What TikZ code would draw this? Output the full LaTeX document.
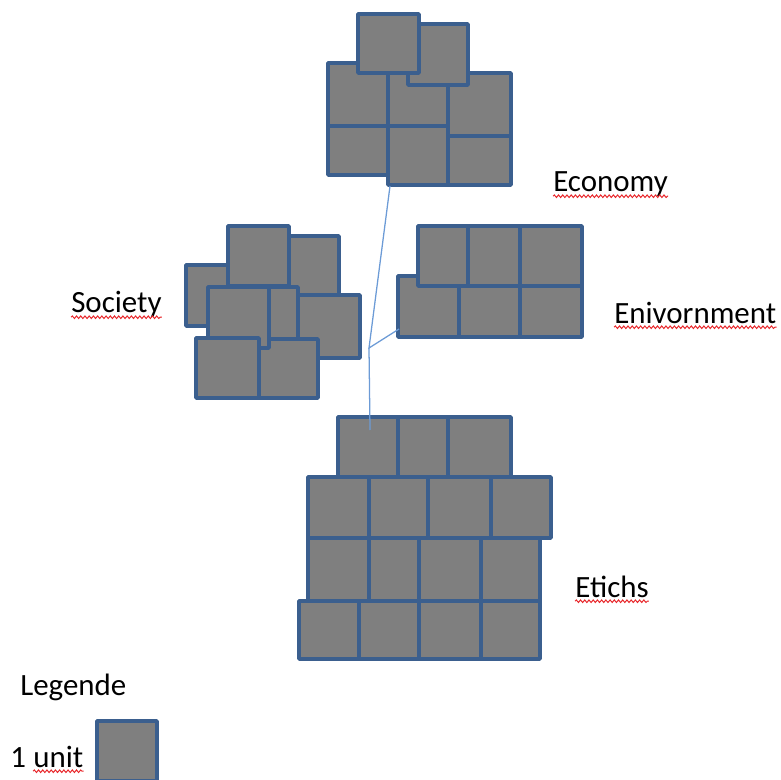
\documentclass[tikz,border=0pt]{standalone}
\usepackage{fontspec}
\setmainfont{Carlito}
\usetikzlibrary{decorations.pathmorphing}
\definecolor{unitgray}{HTML}{7F7F7F}
\definecolor{unitblue}{HTML}{3B5F8E}
\definecolor{linkblue}{HTML}{6C9BD6}
\definecolor{spellred}{HTML}{E8262A}

\begin{document}
\begin{tikzpicture}[x=0.025cm, y=-0.025cm,
  unit/.style={fill=unitgray, draw=unitblue, line width=2.5pt, line join=round},
  link/.style={draw=linkblue, line width=0.9pt},
  lbl/.style={anchor=base west, inner sep=0pt, font=\fontsize{22}{26}\selectfont},
  squiggle/.style={draw=spellred, line width=0.7pt, decorate,
                   decoration={snake, segment length=3pt, amplitude=0.9pt}},
]
  \useasboundingbox (0,0) rectangle (781,780);

  % Economy
  \foreach \xa/\ya/\xb/\yb in {328/126/388/175, 388/126/448/185, 448/136/511/185,
                               328/63/388/126, 388/63/448/126, 448/73/511/136,
                               408/24/468/85, 358/14/419/73}
    \draw[unit] (\xa,\ya) rectangle (\xb,\yb);

  % Society
  \foreach \xa/\ya/\xb/\yb in {186/265/246/326, 280/236/339/296, 228/226/289/286,
                               238/287/298/347, 298/295/360/358, 259/339/318/398,
                               208/287/269/348, 196/338/259/398}
    \draw[unit] (\xa,\ya) rectangle (\xb,\yb);

  % Environment
  \foreach \xa/\ya/\xb/\yb in {398/276/459/337, 459/276/520/337, 520/286/582/337,
                               418/226/468/286, 468/226/520/286, 520/226/582/286}
    \draw[unit] (\xa,\ya) rectangle (\xb,\yb);

  % Ethics, row by row
  \foreach \xa/\xb in {338/398, 398/448, 448/511}
    \draw[unit] (\xa,417) rectangle (\xb,477);
  \foreach \xa/\xb in {308/369, 369/428, 428/491, 491/551}
    \draw[unit] (\xa,477) rectangle (\xb,538);
  \foreach \xa/\xb in {308/369, 369/419, 419/481, 481/540}
    \draw[unit] (\xa,538) rectangle (\xb,601);
  \foreach \xa/\xb in {299/359, 359/419, 419/481, 481/540}
    \draw[unit] (\xa,601) rectangle (\xb,659);

  % legend
  \draw[unit] (97,721) rectangle (157,781);

  % links
  \coordinate (hub)    at (369,348);
  \coordinate (econtip) at (390,186);
  \coordinate (envtip)  at (399,329);
  \coordinate (ethtip)  at (370,430);
  \draw[link] (econtip) -- (hub) -- (envtip);
  \draw[link] (hub) -- (ethtip);

  % labels
  \node[lbl] (econ) at (553,192) {Economy};
  \node[lbl] (soc)  at (71,313)  {Society};
  \node[lbl] (env)  at (614,323) {Enivornment};
  \node[lbl] (eth)  at (575,597) {Etichs};
  \node[lbl] (leg)  at (20,695)  {Legende};
  \node[lbl] (one)  at (10,767)  {1};
  \node[lbl] (unitlbl) at (33,767) {unit};

  \foreach \n in {econ, soc, env, eth, unitlbl}
    \draw[squiggle] ([yshift=-3pt]\n.base west) -- ([yshift=-3pt]\n.base east);
\end{tikzpicture}
\end{document}
